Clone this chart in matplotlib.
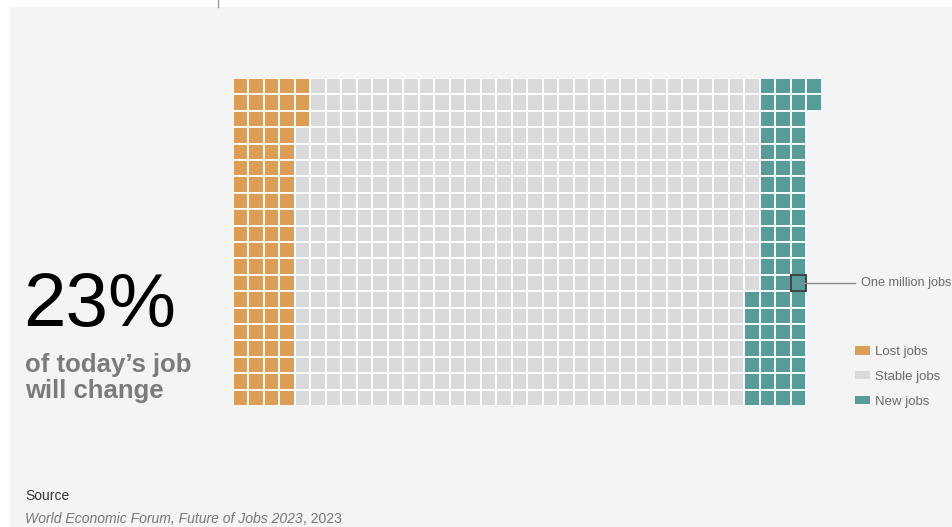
import numpy as np
import matplotlib.pyplot as plt
from matplotlib.patches import Rectangle, Patch

# Datos (millones de empleos)
categorias = ["Lost jobs", "Stable jobs", "New jobs"]
valores = [83, 590, 69]
colores = ["#DC9D54", "#DADADA", "#589C9A"]
filas = 20
celda_destacada = 732  # indice de la celda "One million jobs"

titulo_grande = "23%"
subtitulo = ["of today\u2019s job", "will change"]
fuente_titulo = "Source"
fuente_italica = "World Economic Forum, Future of Jobs 2023"
fuente_resto = ", 2023"

plt.rcParams['font.family'] = ['Liberation Sans', 'DejaVu Sans']

W, H = 953, 527
fig = plt.figure(figsize=(W / 100, H / 100), dpi=100, facecolor="white")

# Panel de fondo gris claro
fig.patches.append(Rectangle((10 / W, 0), 1 - 10 / W, 1 - 7 / H, transform=fig.transFigure,
                             facecolor="#F4F4F4", edgecolor="none", zorder=-5))
fig.lines.append(plt.Line2D([218 / W, 218 / W], [1 - 7 / H, 1], transform=fig.transFigure,
                            color="#999999", lw=1, zorder=-4))

# Construir la lista de celdas (orden por columnas, de arriba a abajo)
cat_celda = np.repeat(np.arange(len(valores)), valores)
n_total = len(cat_celda)
n_cols = int(np.ceil(n_total / filas))

x0, x1, y0, y1 = 233, 822, 78, 406
ax = fig.add_axes([x0 / W, 1 - y1 / H, (x1 - x0) / W, (y1 - y0) / H])
ax.set_xlim(0, n_cols)
ax.set_ylim(filas, 0)
ax.axis("off")

for i, c in enumerate(cat_celda):
    col, fila = divmod(i, filas)
    ax.add_patch(Rectangle((col, fila), 1, 1, facecolor=colores[c],
                           edgecolor="white", lw=1.3))

# Celda destacada y etiqueta
col, fila = divmod(celda_destacada, filas)
ax.add_patch(Rectangle((col, fila), 1, 1, facecolor="none",
                       edgecolor="#333333", lw=1.3, zorder=3))
ax.plot([col + 0.5, col + 4.1], [fila + 0.5, fila + 0.5], color="#8A8A8A",
        lw=1, clip_on=False, zorder=4)
ax.text(col + 4.5, fila + 0.5, "One million jobs", fontsize=9.1, color="#6B6B6B",
        va="center", ha="left", clip_on=False)

# Leyenda
handles = [Patch(facecolor=c, edgecolor="none", label=l) for c, l in zip(colores, categorias)]
fig.legend(handles=handles, loc="upper left", bbox_to_anchor=(855 / W, 1 - 346 / H),
           frameon=False, fontsize=9.5, handlelength=1.1, handleheight=0.6,
           handletextpad=0.4, labelspacing=0.98, borderpad=0, borderaxespad=0,
           labelcolor="#6B6B6B")

# Texto grande
fig.text(23 / W, 1 - 326 / H, titulo_grande, fontsize=55, color="black",
         ha="left", va="baseline")
fig.text(25 / W, 1 - 372 / H, subtitulo[0], fontsize=18.5, fontweight="bold",
         color="#7B7B7B", ha="left", va="baseline")
fig.text(25 / W, 1 - 398 / H, subtitulo[1], fontsize=18.5, fontweight="bold",
         color="#7B7B7B", ha="left", va="baseline")

# Fuente
fig.text(25 / W, 1 - 500 / H, fuente_titulo, fontsize=10, color="#333333",
         ha="left", va="baseline")
t = fig.text(25 / W, 1 - 523 / H, fuente_italica, fontsize=10.1, color="#777777",
             style="italic", ha="left", va="baseline")
fig.canvas.draw()
bb = t.get_window_extent()
fig.text(bb.x1 / W, 1 - 523 / H, fuente_resto, fontsize=10.1, color="#777777",
         ha="left", va="baseline")

fig.savefig("out.png", dpi=100, facecolor="white")
